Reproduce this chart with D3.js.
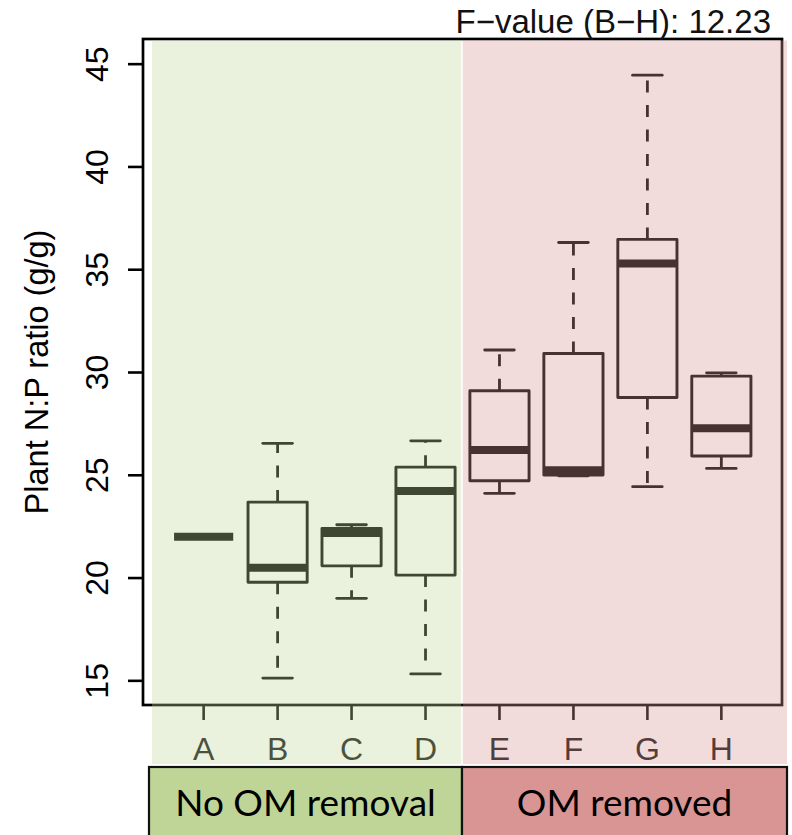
<!DOCTYPE html>
<html>
<head>
<meta charset="utf-8">
<script src="https://cdn.jsdelivr.net/npm/d3@7"></script>
<style>
  html, body { margin: 0; padding: 0; background: #fff; }
  svg { display: block; }
</style>
</head>
<body>
<svg id="chart" width="792" height="835"></svg>
<script>
// ---------------- data ----------------
const categories   = ["A", "B", "C", "D", "E", "F", "G", "H"];
const groupOf      = ["No OM removal", "No OM removal", "No OM removal", "No OM removal",
                      "OM removed", "OM removed", "OM removed", "OM removed"];
const groups       = ["No OM removal", "OM removed"];
const whiskerLow   = [21.98, 15.11, 18.99, 15.31, 24.10, 24.95, 24.42, 25.31];
const quartile1    = [21.98, 19.77, 20.57, 20.12, 24.71, 24.99, 28.76, 25.91];
const medians      = [21.98, 20.48, 22.17, 24.21, 26.20, 25.22, 35.28, 27.26];
const quartile3    = [21.98, 23.67, 22.39, 25.37, 29.09, 30.90, 36.45, 29.80];
const whiskerHigh  = [21.98, 26.53, 22.57, 26.65, 31.07, 36.30, 44.44, 29.96];
const yTicks       = [15, 20, 25, 30, 35, 40, 45];
const yLabel       = "Plant N:P ratio (g/g)";
const annotation   = "F\u2212value (B\u2212H): 12.23";

// ---------------- layout ----------------
const svg = d3.select("#chart");
const frame = { left: 143, right: 782, top: 39, bottom: 705 };
const groupColor = { "No OM removal": "#bfd598", "OM removed": "#d99594" };
const overlayOpacity = { "No OM removal": 0.33, "OM removed": 0.335 };
const font = "'Liberation Sans', Arial, Helvetica, sans-serif";

const x = d3.scaleBand()
  .domain(categories)
  .range([frame.left, frame.right])
  .paddingInner(0.2)
  .paddingOuter(0.42);
const bw = x.bandwidth();
const cx = c => x(c) + bw / 2;

const y = d3.scaleLinear().domain([13.8, 46.2]).range([frame.bottom, frame.top]);

const data = categories.map((c, i) => ({
  cat: c, group: groupOf[i],
  lo: whiskerLow[i], q1: quartile1[i], med: medians[i], q3: quartile3[i], hi: whiskerHigh[i]
}));

const ink = "#000";

// ---------------- axes ----------------
const yAxis = svg.append("g")
  .attr("transform", `translate(${frame.left},0)`)
  .call(d3.axisLeft(y).tickValues(yTicks).tickSize(15).tickSizeOuter(0).tickPadding(0).tickFormat(d3.format("d")));
yAxis.select(".domain").remove();
yAxis.selectAll(".tick line").attr("stroke", ink).attr("stroke-width", 2.6);
yAxis.selectAll(".tick text").remove();
yAxis.selectAll(".tick").append("text")
  .attr("transform", "translate(-35,0) rotate(-90)")
  .attr("text-anchor", "middle")
  .attr("dy", "0")
  .attr("fill", ink)
  .style("font-family", font)
  .style("font-size", "32px")
  .text(d => d);

const xAxis = svg.append("g")
  .attr("transform", `translate(0,${frame.bottom})`)
  .call(d3.axisBottom(x).tickSize(15).tickSizeOuter(0).tickPadding(0));
xAxis.select(".domain").remove();
xAxis.selectAll(".tick line").attr("stroke", ink).attr("stroke-width", 2.6);
xAxis.selectAll(".tick text")
  .attr("y", 55).attr("dy", 0)
  .attr("fill", "#111")
  .style("font-family", font)
  .style("font-size", "32px");

// ---------------- boxes ----------------
const boxes = svg.append("g");
const g = boxes.selectAll("g.box").data(data).join("g").attr("class", "box");

// whiskers (dashed)
g.append("line")
  .attr("x1", d => cx(d.cat)).attr("x2", d => cx(d.cat))
  .attr("y1", d => y(d.q3)).attr("y2", d => y(d.hi))
  .attr("stroke", ink).attr("stroke-width", 2.8).attr("stroke-dasharray", "12,12.5");
g.append("line")
  .attr("x1", d => cx(d.cat)).attr("x2", d => cx(d.cat))
  .attr("y1", d => y(d.q1)).attr("y2", d => y(d.lo))
  .attr("stroke", ink).attr("stroke-width", 2.8).attr("stroke-dasharray", "12,12.5");
// caps
["hi", "lo"].forEach(k => {
  g.append("line")
    .attr("x1", d => cx(d.cat) - bw * 0.25).attr("x2", d => cx(d.cat) + bw * 0.25)
    .attr("y1", d => y(d[k])).attr("y2", d => y(d[k]))
    .attr("stroke", ink).attr("stroke-width", 2.8).attr("stroke-linecap", "round");
});
// box
g.append("rect")
  .attr("x", d => x(d.cat)).attr("width", bw)
  .attr("y", d => y(d.q3)).attr("height", d => Math.max(0, y(d.q1) - y(d.q3)))
  .attr("fill", "none").attr("stroke", ink).attr("stroke-width", 2.9)
  .attr("stroke-linejoin", "round");
// median
g.append("line")
  .attr("x1", d => x(d.cat)).attr("x2", d => x(d.cat) + bw)
  .attr("y1", d => y(d.med)).attr("y2", d => y(d.med))
  .attr("stroke", ink).attr("stroke-width", 8).attr("stroke-linecap", "butt");

// frame
svg.append("rect")
  .attr("x", frame.left).attr("y", frame.top)
  .attr("width", frame.right - frame.left).attr("height", frame.bottom - frame.top)
  .attr("fill", "none").attr("stroke", ink).attr("stroke-width", 2.7);

// ---------------- coloured overlays ----------------
const regions = [
  { group: groups[0], x0: 152, x1: 461.3 },
  { group: groups[1], x0: 462.8, x1: 787 }
];
svg.append("g").selectAll("rect").data(regions).join("rect")
  .attr("x", d => d.x0).attr("y", 40.5)
  .attr("width", d => d.x1 - d.x0).attr("height", 764 - 40.5)
  .attr("fill", d => groupColor[d.group])
  .attr("fill-opacity", d => overlayOpacity[d.group]);

// ---------------- group label boxes ----------------
const labelBoxes = [
  { group: groups[0], x0: 149, x1: 462 },
  { group: groups[1], x0: 462, x1: 787 }
];
const lb = svg.append("g").selectAll("g").data(labelBoxes).join("g");
lb.append("rect")
  .attr("x", d => d.x0).attr("y", 767)
  .attr("width", d => d.x1 - d.x0).attr("height", 90)
  .attr("fill", d => groupColor[d.group])
  .attr("stroke", "#111").attr("stroke-width", 2.2);
lb.append("text")
  .attr("x", d => (d.x0 + d.x1) / 2).attr("y", 816)
  .attr("text-anchor", "middle")
  .attr("fill", "#000")
  .style("font-family", "Lato, 'Open Sans', sans-serif")
  .style("font-size", "37px")
  .text(d => d.group);

// ---------------- texts ----------------
svg.append("text")
  .attr("transform", `translate(48,${(frame.top + frame.bottom) / 2}) rotate(-90)`)
  .attr("text-anchor", "middle")
  .attr("fill", ink)
  .style("font-family", font)
  .style("font-size", "32.5px")
  .text(yLabel);

svg.append("text")
  .attr("x", 771).attr("y", 33)
  .attr("text-anchor", "end")
  .attr("fill", "#111")
  .style("font-family", font)
  .style("font-size", "33px")
  .text(annotation);
</script>
</body>
</html>
